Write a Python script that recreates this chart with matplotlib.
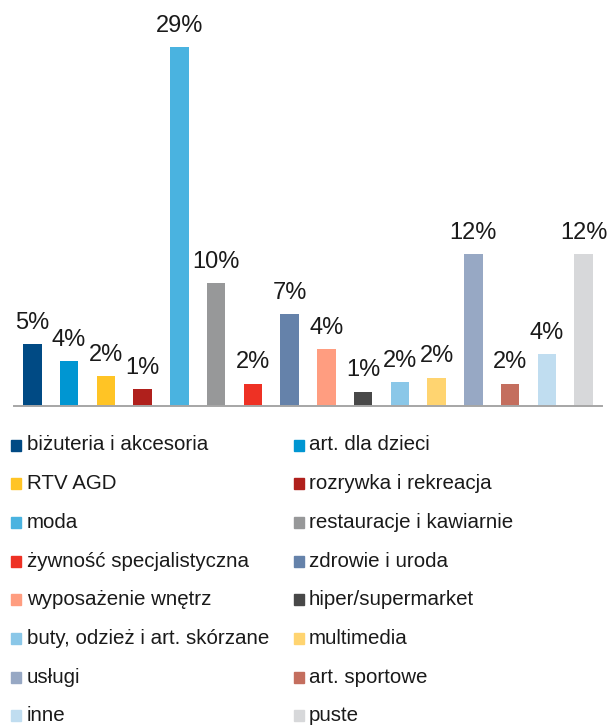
import matplotlib
matplotlib.use("Agg")
import matplotlib.pyplot as plt
from matplotlib.patches import Rectangle

plt.rcParams['font.family'] = ['Liberation Sans', 'DejaVu Sans']

categories = ["biżuteria i akcesoria", "art. dla dzieci", "RTV AGD", "rozrywka i rekreacja",
              "moda", "restauracje i kawiarnie", "żywność specjalistyczna", "zdrowie i uroda",
              "wyposażenie wnętrz", "hiper/supermarket", "buty, odzież i art. skórzane", "multimedia",
              "usługi", "art. sportowe", "inne", "puste"]
values = [5.0, 3.6, 2.4, 1.35, 29.0, 9.9, 1.8, 7.4, 4.6, 1.15, 1.9, 2.3, 12.25, 1.8, 4.2, 12.25]
labels = ["5%", "4%", "2%", "1%", "29%", "10%", "2%", "7%", "4%", "1%", "2%", "2%", "12%", "2%", "4%", "12%"]
colors = ["#004A84", "#0096D2", "#FFC425", "#B0201C", "#4AB3E0", "#979899", "#EE3124", "#6582AA",
          "#FF9D80", "#484848", "#8AC7E8", "#FFD470", "#97A8C4", "#C46E5E", "#C0DDF0", "#D7D8DA"]

W, H = 609, 726
fig = plt.figure(figsize=(W / 100, H / 100), dpi=100)
ax = fig.add_axes([14 / W, (H - 406) / H, 588 / W, 371.4 / H])

x = list(range(len(values)))
ax.bar(x, values, width=0.5, color=colors)
for xi, v, lab in zip(x, values, labels):
    ax.annotate(lab, (xi, v), xytext=(0, 11), textcoords="offset points",
                ha="center", va="baseline", fontsize=17, color="#1A1A1A",
                annotation_clip=False)

ax.set_xlim(-0.5, len(values) - 0.5)
ax.set_ylim(0, 30)
for s in ["top", "right", "left"]:
    ax.spines[s].set_visible(False)
ax.spines["bottom"].set_color("#A6A6A6")
ax.spines["bottom"].set_linewidth(1.4)
ax.set_xticks([])
ax.set_yticks([])

# legend in two columns, filled row by row
col_marker_x = [10.5, 294]
col_text_x = [27, 309]
for i, (name, c) in enumerate(zip(categories, colors)):
    row, col = divmod(i, 2)
    yc = 445 + row * 38.7
    fig.patches.append(Rectangle((col_marker_x[col] / W, (H - yc - 5.5) / H), 10 / W, 11 / H,
                                 transform=fig.transFigure, color=c, figure=fig))
    fig.text(col_text_x[col] / W, (H - yc) / H, name, fontsize=14.8, color="#1A1A1A",
             ha="left", va="center")

fig.savefig("out.png", dpi=100)
